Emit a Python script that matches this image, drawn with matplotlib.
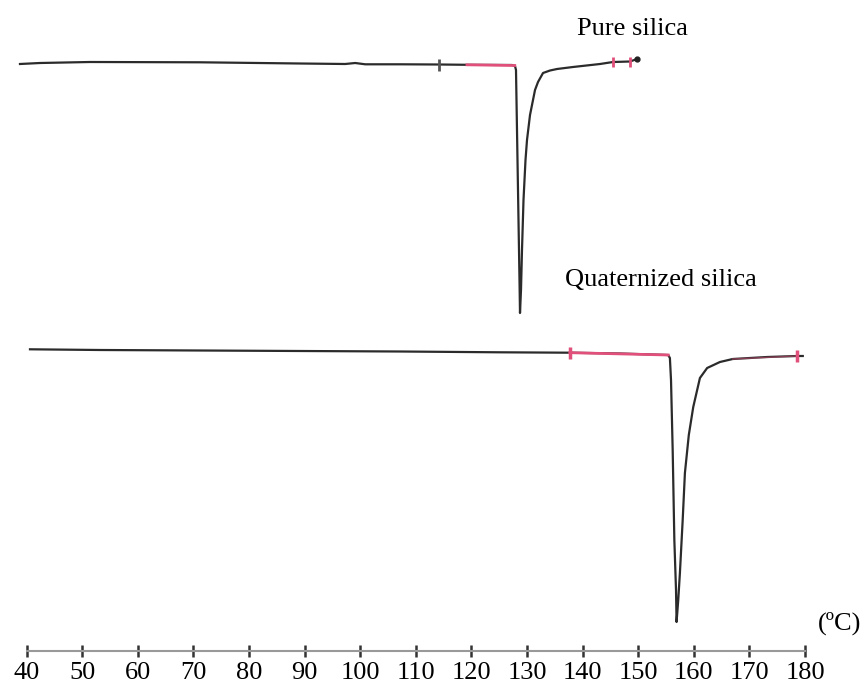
import matplotlib
matplotlib.use("Agg")
import matplotlib.pyplot as plt

plt.rcParams['font.family'] = ['Liberation Serif', 'DejaVu Serif']

# Temperatures (°C) and heat-flow signal (arbitrary units)
pure_T = [38.81, 42.41, 51.4, 71.2, 89.2, 97.3, 99.1, 100.9, 107.2, 114.2, 119.2,
          127.30, 127.84, 128.02, 128.11, 128.29, 128.47, 128.65, 128.74, 128.92,
          129.10, 129.37, 129.73, 130.00, 130.54, 131.08, 131.44, 131.98, 132.88,
          134.14, 135.40, 138.27, 143.13, 145.47, 148.53, 149.79]
pure_hf = [-6.40, -6.30, -6.20, -6.23, -6.35, -6.40, -6.30, -6.43, -6.43, -6.45, -6.48,
           -6.50, -6.60, -7.00, -10.0, -16.0, -22.0, -28.0, -31.3, -29.0,
           -25.0, -20.0, -16.0, -14.0, -11.5, -10.0, -9.0, -8.2, -7.3,
           -7.05, -6.90, -6.70, -6.40, -6.20, -6.15, -5.90]
pure_red_T = [119.2, 127.8]
pure_red_hf = [-6.48, -6.55]
pure_marks_T = [145.47, 148.53]
pure_marks_hf = [-6.20, -6.15]
pure_start_mark = (114.2, -6.45)
pure_end = (149.79, -5.90)

quat_T = [40.61, 53.2, 71.2, 89.2, 107.2, 125.1, 137.7, 146.7, 155.4, 155.7, 155.9,
          156.2, 156.5, 156.8, 156.9, 157.2, 157.5, 158.0, 158.4, 159.1, 159.9,
          161.1, 162.4, 164.7, 167.0, 173.2, 178.6, 179.6]
quat_hf = [-34.93, -35.0, -35.05, -35.1, -35.15, -35.23, -35.27, -35.35, -35.5, -35.8,
           -38.0, -45.0, -54.0, -59.0, -62.2, -60.0, -57.3, -52.0, -47.3, -43.5,
           -40.7, -37.8, -36.8, -36.2, -35.9, -35.7, -35.6, -35.6]
quat_red_T = [137.7, 155.4]
quat_red_hf = [-35.27, -35.5]
quat_red2_T = [167.0, 178.6]
quat_red2_hf = [-35.9, -35.6]
quat_marks_T = [137.7, 178.6]
quat_marks_hf = [-35.27, -35.6]

x_ticks = list(range(40, 181, 10))
labels = ["Pure silica", "Quaternized silica"]

fig = plt.figure(figsize=(8.65, 6.84), dpi=100)
ax = fig.add_axes([0, 0, 1, 1])
ax.set_xlim(35.216, 190.79)
ax.set_ylim(-68.4, 0)

line_c = '#2b2b2b'
red_c = '#e0507a'

ax.plot(pure_T, pure_hf, color=line_c, lw=1.6, solid_joinstyle='round')
ax.plot(pure_red_T, pure_red_hf, color=red_c, lw=2.0)
ax.plot(pure_marks_T, pure_marks_hf, ls='none', marker='|', ms=7, mew=2, color=red_c)
ax.plot([pure_start_mark[0]], [pure_start_mark[1]], ls='none', marker='|', ms=8, mew=2, color='#555555')
ax.plot([pure_end[0]], [pure_end[1]], ls='none', marker='o', ms=3.5, color='#222222')

ax.plot(quat_T, quat_hf, color=line_c, lw=1.6, solid_joinstyle='round')
ax.plot(quat_red_T, quat_red_hf, color=red_c, lw=2.0)
ax.plot(quat_red2_T, quat_red2_hf, color=red_c, lw=1.0, alpha=0.5)
ax.plot(quat_marks_T, quat_marks_hf, ls='none', marker='|', ms=8, mew=2.5, color=red_c)

ax.text(139.0, -3.5, labels[0], fontsize=19, va='baseline', ha='left')
ax.text(136.85, -28.6, labels[1], fontsize=19, va='baseline', ha='left')
ax.text(182.4, -63.0, "(ºC)", fontsize=19, va='baseline', ha='left')

for s in ['top', 'left', 'right']:
    ax.spines[s].set_visible(False)
ax.spines['bottom'].set_position(('data', -65.1))
ax.spines['bottom'].set_bounds(40, 180)
ax.spines['bottom'].set_color('#999999')
ax.spines['bottom'].set_linewidth(1.5)
ax.set_yticks([])
ax.set_xticks(x_ticks)
ax.set_xticklabels([str(t) for t in x_ticks])
ax.tick_params(axis='x', direction='inout', length=8, width=1.8, color='#333333',
               labelsize=19, pad=4)
ax.patch.set_alpha(0)

fig.savefig("out.png", dpi=100)
